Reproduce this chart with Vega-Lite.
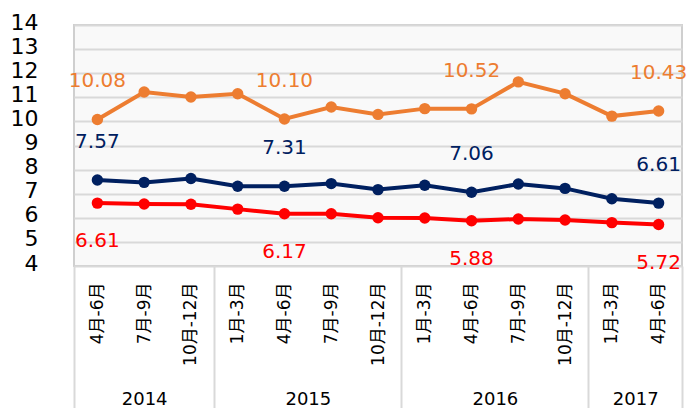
{
  "$schema": "https://vega.github.io/schema/vega-lite/v6.json",
  "width": 608,
  "height": 241,
  "autosize": {"type": "none"},
  "padding": {"left": 74, "top": 25, "right": 10, "bottom": 142},
  "background": "white",
  "config": {
    "view": {"fill": "#f9f9f9", "stroke": "#cfcfcf", "strokeWidth": 2},
    "font": "DejaVu Sans, 'Noto Sans CJK JP'"
  },
  "datasets": {
    "quarters": [
      {"series": "A", "year": "2014", "quarter": "4月-6月", "key": "2014 4月-6月", "value": 10.08},
      {"series": "A", "year": "2014", "quarter": "7月-9月", "key": "2014 7月-9月", "value": 11.22},
      {"series": "A", "year": "2014", "quarter": "10月-12月", "key": "2014 10月-12月", "value": 11.01},
      {"series": "A", "year": "2015", "quarter": "1月-3月", "key": "2015 1月-3月", "value": 11.15},
      {"series": "A", "year": "2015", "quarter": "4月-6月", "key": "2015 4月-6月", "value": 10.10},
      {"series": "A", "year": "2015", "quarter": "7月-9月", "key": "2015 7月-9月", "value": 10.60},
      {"series": "A", "year": "2015", "quarter": "10月-12月", "key": "2015 10月-12月", "value": 10.29},
      {"series": "A", "year": "2016", "quarter": "1月-3月", "key": "2016 1月-3月", "value": 10.53},
      {"series": "A", "year": "2016", "quarter": "4月-6月", "key": "2016 4月-6月", "value": 10.52},
      {"series": "A", "year": "2016", "quarter": "7月-9月", "key": "2016 7月-9月", "value": 11.64},
      {"series": "A", "year": "2016", "quarter": "10月-12月", "key": "2016 10月-12月", "value": 11.15},
      {"series": "A", "year": "2017", "quarter": "1月-3月", "key": "2017 1月-3月", "value": 10.22},
      {"series": "A", "year": "2017", "quarter": "4月-6月", "key": "2017 4月-6月", "value": 10.43},
      {"series": "B", "year": "2014", "quarter": "4月-6月", "key": "2014 4月-6月", "value": 7.57},
      {"series": "B", "year": "2014", "quarter": "7月-9月", "key": "2014 7月-9月", "value": 7.47},
      {"series": "B", "year": "2014", "quarter": "10月-12月", "key": "2014 10月-12月", "value": 7.63},
      {"series": "B", "year": "2015", "quarter": "1月-3月", "key": "2015 1月-3月", "value": 7.31},
      {"series": "B", "year": "2015", "quarter": "4月-6月", "key": "2015 4月-6月", "value": 7.31},
      {"series": "B", "year": "2015", "quarter": "7月-9月", "key": "2015 7月-9月", "value": 7.42},
      {"series": "B", "year": "2015", "quarter": "10月-12月", "key": "2015 10月-12月", "value": 7.17},
      {"series": "B", "year": "2016", "quarter": "1月-3月", "key": "2016 1月-3月", "value": 7.35},
      {"series": "B", "year": "2016", "quarter": "4月-6月", "key": "2016 4月-6月", "value": 7.06},
      {"series": "B", "year": "2016", "quarter": "7月-9月", "key": "2016 7月-9月", "value": 7.40},
      {"series": "B", "year": "2016", "quarter": "10月-12月", "key": "2016 10月-12月", "value": 7.22},
      {"series": "B", "year": "2017", "quarter": "1月-3月", "key": "2017 1月-3月", "value": 6.79},
      {"series": "B", "year": "2017", "quarter": "4月-6月", "key": "2017 4月-6月", "value": 6.61},
      {"series": "C", "year": "2014", "quarter": "4月-6月", "key": "2014 4月-6月", "value": 6.61},
      {"series": "C", "year": "2014", "quarter": "7月-9月", "key": "2014 7月-9月", "value": 6.57},
      {"series": "C", "year": "2014", "quarter": "10月-12月", "key": "2014 10月-12月", "value": 6.56},
      {"series": "C", "year": "2015", "quarter": "1月-3月", "key": "2015 1月-3月", "value": 6.36},
      {"series": "C", "year": "2015", "quarter": "4月-6月", "key": "2015 4月-6月", "value": 6.17},
      {"series": "C", "year": "2015", "quarter": "7月-9月", "key": "2015 7月-9月", "value": 6.17},
      {"series": "C", "year": "2015", "quarter": "10月-12月", "key": "2015 10月-12月", "value": 6.00},
      {"series": "C", "year": "2016", "quarter": "1月-3月", "key": "2016 1月-3月", "value": 5.99},
      {"series": "C", "year": "2016", "quarter": "4月-6月", "key": "2016 4月-6月", "value": 5.88},
      {"series": "C", "year": "2016", "quarter": "7月-9月", "key": "2016 7月-9月", "value": 5.95},
      {"series": "C", "year": "2016", "quarter": "10月-12月", "key": "2016 10月-12月", "value": 5.91},
      {"series": "C", "year": "2017", "quarter": "1月-3月", "key": "2017 1月-3月", "value": 5.80},
      {"series": "C", "year": "2017", "quarter": "4月-6月", "key": "2017 4月-6月", "value": 5.72}
    ],
    "years": [
      {"year": 2014, "from": 2014.25, "to": 2015},
      {"year": 2015, "from": 2015, "to": 2016},
      {"year": 2016, "from": 2016, "to": 2017},
      {"year": 2017, "from": 2017, "to": 2017.5}
    ]
  },
  "layer": [
    {
      "data": {"name": "quarters"},
      "encoding": {
        "x": {
          "field": "key", "type": "ordinal", "sort": null,
          "scale": {"paddingInner": 0, "paddingOuter": 0},
          "axis": {
            "title": null, "domain": false, "ticks": false, "grid": false,
            "labelExpr": "split(datum.value, ' ')[1]",
            "labelAngle": 270, "labelAlign": "right", "labelBaseline": "middle",
            "labelPadding": 16, "labelFontSize": 17, "labelColor": "#000000",
            "labelFont": "DejaVu Sans, 'Noto Sans CJK JP'"
          }
        },
        "y": {
          "field": "value", "type": "quantitative",
          "scale": {"domain": [4, 14], "nice": false, "zero": false},
          "axis": {
            "title": null, "domain": false, "ticks": false,
            "values": [4, 5, 6, 7, 8, 9, 10, 11, 12, 13, 14],
            "grid": true, "gridColor": "#d9d9d9", "gridWidth": 2,
            "labelFontSize": 22, "labelColor": "#000000", "labelPadding": 36,
            "labelFont": "DejaVu Sans", "labelOffset": -3
          }
        },
        "color": {
          "field": "series", "type": "nominal",
          "scale": {"domain": ["A", "B", "C"], "range": ["#ED7D31", "#002060", "#FF0000"]},
          "legend": null
        }
      },
      "layer": [
        {"mark": {"type": "line", "strokeWidth": 4}},
        {"mark": {"type": "point", "filled": true, "size": 130, "opacity": 1}},
        {
          "transform": [{"filter": "datum.quarter == '4月-6月' && datum.series != 'C'"}],
          "mark": {"type": "text", "dy": -38, "fontSize": 20, "font": "DejaVu Sans", "align": "center", "baseline": "middle"},
          "encoding": {"text": {"field": "value", "type": "quantitative", "format": ".2f"}}
        },
        {
          "transform": [{"filter": "datum.quarter == '4月-6月' && datum.series == 'C'"}],
          "mark": {"type": "text", "dy": 38, "fontSize": 20, "font": "DejaVu Sans", "align": "center", "baseline": "middle"},
          "encoding": {"text": {"field": "value", "type": "quantitative", "format": ".2f"}}
        }
      ]
    },
    {
      "data": {"name": "years"},
      "mark": {"type": "rule", "opacity": 0},
      "encoding": {
        "x": {
          "field": "from", "type": "quantitative",
          "scale": {"domain": [2014.25, 2017.5], "nice": false, "zero": false},
          "axis": {
            "orient": "bottom", "title": null, "domain": false, "grid": false,
            "labels": false, "ticks": true, "tickSize": 142, "tickWidth": 2,
            "tickColor": "#d9d9d9", "values": [2014.25, 2015, 2016, 2017, 2017.5]
          }
        }
      }
    },
    {
      "data": {"name": "years"},
      "mark": {"type": "rule", "opacity": 0},
      "encoding": {
        "x": {
          "field": "to", "type": "quantitative",
          "scale": {"domain": [2014.25, 2017.5], "nice": false, "zero": false},
          "axis": {
            "orient": "bottom", "title": null, "domain": false, "grid": false,
            "ticks": false, "values": [2014.625, 2015.5, 2016.5, 2017.25],
            "labelExpr": "'' + floor(datum.value)",
            "labelPadding": 124, "labelBaseline": "top", "labelFontSize": 18,
            "labelFont": "DejaVu Sans", "labelColor": "#000000",
            "labelFlush": false, "labelOverlap": false, "labelBound": false
          }
        }
      }
    }
  ],
  "resolve": {"scale": {"x": "independent"}, "axis": {"x": "independent"}}
}
